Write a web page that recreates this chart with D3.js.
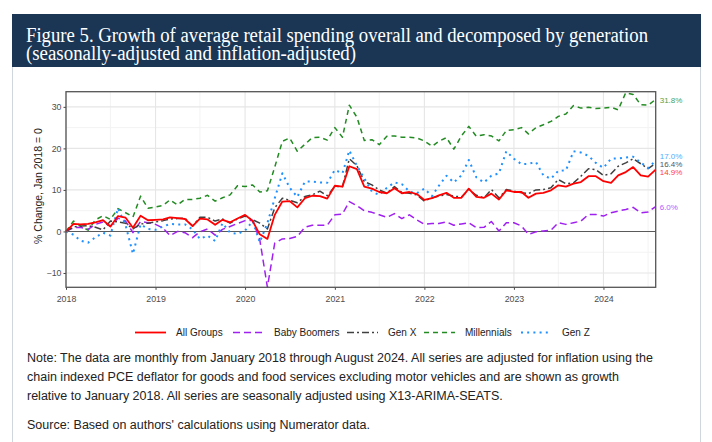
<!DOCTYPE html>
<html>
<head>
<meta charset="utf-8">
<script src="https://cdn.jsdelivr.net/npm/d3@7"></script>
<style>
  html, body { margin: 0; padding: 0; background: #ffffff; }
  svg { display: block; }
</style>
</head>
<body>
<svg id="chart" width="712" height="442"></svg>
<script>
// ---------------- DATA (monthly, Jan 2018 – Aug 2024) ----------------
const startYear = 2018;
const nMonths = 80;
const seriesNames = ["All Groups", "Baby Boomers", "Gen X", "Millennials", "Gen Z"];
const yearTicks = [2018, 2019, 2020, 2021, 2022, 2023, 2024];
const yTicks = [-10, 0, 10, 20, 30];
const endLabels = ["14.9%", "6.0%", "16.4%", "31.8%", "17.0%"];

const allGroups = [
  0, 1.8, 1.7, 1.8, 2.2, 2.7, 1.2, 3.7, 3.3, 0.9, 3.8, 2.7,
  2.8, 2.9, 3.4, 3.2, 3.0, 1.3, 3.1, 2.9, 1.6, 2.8, 2.2, 3.1,
  4.0, 2.5, -0.7, -1.8, 4.0, 7.2, 7.3, 5.8, 8.0, 8.6, 8.5, 7.9,
  11.0, 10.8, 15.7, 15.0, 10.8, 10.3, 9.5, 9.2, 10.4, 9.2, 9.5, 9.0,
  7.6, 8.0, 8.7, 9.3, 8.1, 8.1, 10.3, 8.3, 8.1, 9.1, 7.7, 9.9,
  9.5, 9.5, 8.1, 9.1, 9.3, 9.9, 11.1, 10.8, 11.5, 11.9, 13.3, 13.3,
  12.1, 11.7, 13.5, 14.3, 15.5, 13.5, 13.2, 14.9
];
const babyBoomers = [
  0, 0.9, 1.0, 0.5, 1.7, 2.3, 1.2, 3.2, 2.5, -0.3, 2.4, 2.1,
  1.7, 0.8, -1.0, 0.0, -0.3, -1.5, -0.1, 0.6, -0.9, 0.5, 1.2, 1.9,
  2.6, 2.7, -2.0, -13.4, -2.8, -1.8, -1.7, -1.2, 1.0, 1.5, 1.5, 1.5,
  4.0, 4.2, 7.2, 6.2, 5.0, 4.6, 4.0, 3.4, 4.3, 3.1, 4.0, 2.8,
  1.7, 1.9, 1.9, 2.3, 1.5, 1.8, 2.1, 0.9, 1.0, 2.4, 0.1, 2.1,
  2.1, 1.3, -0.7, -0.1, 0.1, 0.3, 2.1, 1.7, 2.1, 2.5, 4.1, 4.1,
  3.7, 4.5, 4.9, 5.3, 5.8, 4.5, 4.7, 6.0
];
const genX = [
  0, 1.1, 1.3, 1.4, 1.0, 0.4, 2.5, 2.3, 2.0, 0.6, 1.8, 2.0,
  2.3, 2.6, 3.0, 3.1, 3.2, 1.3, 3.4, 3.4, 2.5, 3.0, 2.0, 3.0,
  3.7, 2.8, 2.0, 0.6, 5.7, 8.0, 7.5, 6.9, 8.4, 8.8, 9.7, 8.6,
  10.8, 10.8, 17.5, 15.8, 12.0, 11.2, 10.0, 9.2, 10.8, 9.4, 9.2, 8.8,
  7.3, 8.1, 8.5, 8.9, 8.5, 8.3, 10.1, 8.7, 8.1, 10.1, 8.1, 10.1,
  9.7, 9.3, 9.1, 10.0, 10.1, 10.5, 12.5, 11.5, 11.7, 13.3, 15.1, 14.9,
  13.5, 13.9, 15.7, 16.5, 17.5, 16.3, 15.1, 16.4
];
const millennials = [
  0, 2.5, 1.3, 0.3, 2.8, 3.8, 2.9, 5.5, 4.5, 3.5, 8.5, 5.6,
  5.9, 6.3, 7.6, 6.4, 7.7, 7.7, 8.0, 8.7, 7.3, 8.1, 8.8, 11.0,
  10.8, 11.2, 9.5, 9.8, 15.5, 21.7, 22.5, 19.3, 21.0, 22.6, 22.7, 22.0,
  25.0, 22.7, 30.4, 27.5, 21.9, 22.1, 20.9, 22.9, 23.0, 22.7, 22.7, 22.5,
  21.8, 20.5, 21.7, 22.6, 19.8, 23.0, 25.3, 22.9, 23.3, 23.0, 21.8, 24.3,
  24.5, 25.0, 23.5, 25.0, 25.7, 26.5, 27.7, 28.3, 30.3, 29.7, 29.9, 29.6,
  29.7, 29.9, 29.3, 33.4, 33.0, 30.5, 30.4, 31.8
];
const genZ = [
  0, -0.8, -2.2, -2.7, -1.4, -0.3, -1.0, 5.6, 1.5, -5.4, 1.7, 0.6,
  0.4, 1.2, 1.8, 1.7, 1.7, 0.5, -1.8, -1.0, -2.3, 2.0, -0.3, -0.6,
  0.2, 2.5, -2.6, 2.0, 8.0, 14.0, 10.5, 8.3, 12.0, 12.0, 11.8, 11.7,
  14.8, 14.0, 19.5, 15.8, 12.8, 9.6, 8.8, 10.5, 11.8, 11.4, 9.6, 9.2,
  10.3, 8.5, 11.0, 13.4, 11.8, 13.5, 17.2, 13.0, 11.8, 13.4, 14.0, 19.3,
  17.5, 16.2, 16.3, 16.7, 13.5, 12.7, 14.6, 14.7, 19.3, 19.0, 18.2, 16.5,
  15.3, 17.5, 17.6, 17.8, 18.0, 16.6, 15.3, 17.0
];

// ---------------- STYLE ----------------
const colors = ["#ff0000", "#a020f0", "#404040", "#228b22", "#1e90ff"];
const labelColors = ["#ff3b3b", "#b25cff", "#555555", "#4f9f4f", "#55aaff"];
const dashes = [null, "7,4", "7,3,2,3", "5,4", "2,4.2"];
const widths = [1.8, 1.5, 1.5, 1.5, 2];

const seriesValues = [allGroups, babyBoomers, genX, millennials, genZ];
const months = d3.range(nMonths).map(i => new Date(startYear, i, 1));

const svg = d3.select("#chart");

// card border
svg.append("rect").attr("x", 12.5).attr("y", 14.5).attr("width", 688).attr("height", 440)
  .attr("fill", "#fff").attr("stroke", "#cfd6de").attr("stroke-width", 1);

// title box
svg.append("rect").attr("x", 12).attr("y", 14).attr("width", 689).attr("height", 53)
  .attr("fill", "#1a3654");
svg.append("text").attr("x", 26).attr("y", 42)
  .attr("font-family", "'Liberation Serif', 'DejaVu Serif', serif").attr("font-size", 20)
  .attr("fill", "#ffffff").attr("textLength", 622).attr("lengthAdjust", "spacingAndGlyphs")
  .text("Figure 5. Growth of average retail spending overall and decomposed by generation");
svg.append("text").attr("x", 26).attr("y", 60)
  .attr("font-family", "'Liberation Serif', 'DejaVu Serif', serif").attr("font-size", 20)
  .attr("fill", "#ffffff").attr("textLength", 330).attr("lengthAdjust", "spacingAndGlyphs")
  .text("(seasonally-adjusted and inflation-adjusted)");

// ---------------- SCALES ----------------
const pLeft = 66, pRight = 655.7, pTop = 91.7, pBottom = 287.3;
const x = d3.scaleTime()
  .domain([months[0], months[nMonths - 1]])
  .range([pLeft, pRight]);
const y = d3.scaleLinear().domain([-13.45, 33.65]).range([pBottom, pTop]);

const g = svg.append("g");

// minor grid
const minorY = [-5, 5, 15, 25];
g.selectAll(".minorY").data(minorY).enter().append("line")
  .attr("x1", pLeft).attr("x2", pRight).attr("y1", d => y(d)).attr("y2", d => y(d))
  .attr("stroke", "#f3f3f3").attr("stroke-width", 1);
const minorX = yearTicks.map(yr => new Date(yr, 6, 1)).filter(d => d <= months[nMonths - 1]);
g.selectAll(".minorX").data(minorX).enter().append("line")
  .attr("x1", d => x(d)).attr("x2", d => x(d)).attr("y1", pTop).attr("y2", pBottom)
  .attr("stroke", "#f3f3f3").attr("stroke-width", 1);
// major grid
g.selectAll(".majorY").data(yTicks).enter().append("line")
  .attr("x1", pLeft).attr("x2", pRight).attr("y1", d => y(d)).attr("y2", d => y(d))
  .attr("stroke", "#e6e6e6").attr("stroke-width", 1.1);
g.selectAll(".majorX").data(yearTicks).enter().append("line")
  .attr("x1", d => x(new Date(d, 0, 1))).attr("x2", d => x(new Date(d, 0, 1)))
  .attr("y1", pTop).attr("y2", pBottom)
  .attr("stroke", "#e6e6e6").attr("stroke-width", 1.1);

// zero line
g.append("line").attr("x1", pLeft).attr("x2", pRight).attr("y1", y(0)).attr("y2", y(0))
  .attr("stroke", "#5a5a5a").attr("stroke-width", 1.1);

// axes (labels)
const yAxis = d3.axisLeft(y).tickValues(yTicks).tickSize(2.5).tickPadding(2)
  .tickFormat(d => d < 0 ? "\u2212" + Math.abs(d) : d);
const ya = svg.append("g").attr("transform", `translate(${pLeft},0)`).call(yAxis);
ya.select(".domain").remove();
ya.selectAll("line").attr("stroke", "#444");
ya.selectAll("text").attr("font-family", "'Liberation Sans', Arial, sans-serif")
  .attr("font-size", 8.8).attr("fill", "#4d4d4d");

const xAxis = d3.axisBottom(x).tickValues(yearTicks.map(yr => new Date(yr, 0, 1)))
  .tickSize(2.5).tickPadding(6).tickFormat(d3.timeFormat("%Y"));
const xa = svg.append("g").attr("transform", `translate(0,${pBottom})`).call(xAxis);
xa.select(".domain").remove();
xa.selectAll("line").attr("stroke", "#444");
xa.selectAll("text").attr("font-family", "'Liberation Sans', Arial, sans-serif")
  .attr("font-size", 8.8).attr("fill", "#4d4d4d");

// series lines
const line = d3.line().x((d, i) => x(months[i])).y(d => y(d));
const order = [3, 1, 2, 4, 0];
order.forEach(k => {
  svg.append("path").datum(seriesValues[k])
    .attr("d", line)
    .attr("fill", "none")
    .attr("stroke", colors[k])
    .attr("stroke-width", widths[k])
    .attr("stroke-dasharray", dashes[k])
    .attr("stroke-linecap", "butt")
    .attr("stroke-linejoin", "round");
});

// panel border
svg.append("rect").attr("x", pLeft).attr("y", pTop).attr("width", pRight - pLeft).attr("height", pBottom - pTop)
  .attr("fill", "none").attr("stroke", "#555555").attr("stroke-width", 1.3);

// end labels
const labelY = [172.5, 207, 164.2, 100, 156];
seriesValues.forEach((vals, k) => {
  svg.append("text").attr("x", pRight + 4).attr("y", labelY[k]).attr("dy", "0.35em")
    .attr("font-family", "'Liberation Sans', Arial, sans-serif").attr("font-size", 8)
    .attr("fill", labelColors[k]).text(endLabels[k]);
});

// y axis title
svg.append("text").attr("transform", `translate(42,186) rotate(-90)`)
  .attr("text-anchor", "middle")
  .attr("font-family", "'Liberation Sans', Arial, sans-serif").attr("font-size", 10.5)
  .attr("fill", "#222").text("% Change, Jan 2018 = 0");

// legend
const legX = [135, 233, 347, 424, 521];
const legend = svg.append("g");
seriesNames.forEach((name, k) => {
  legend.append("line").attr("x1", legX[k]).attr("x2", legX[k] + 31)
    .attr("y1", 332.5).attr("y2", 332.5)
    .attr("stroke", colors[k]).attr("stroke-width", widths[k])
    .attr("stroke-dasharray", dashes[k]);
  legend.append("text").attr("x", legX[k] + 41).attr("y", 332.5).attr("dy", "0.35em")
    .attr("font-family", "'Liberation Sans', Arial, sans-serif").attr("font-size", 10)
    .attr("fill", "#222").text(name);
});

// notes
const noteLines = [
  "Note: The data are monthly from January 2018 through August 2024. All series are adjusted for inflation using the",
  "chain indexed PCE deflator for goods and food services excluding motor vehicles and are shown as growth",
  "relative to January 2018. All series are seasonally adjusted using X13-ARIMA-SEATS."
];
const noteY = [358, 377, 396];
noteLines.forEach((t, i) => {
  svg.append("text").attr("x", 27).attr("y", noteY[i]).attr("dy", "0.35em")
    .attr("font-family", "'Liberation Sans', Arial, sans-serif").attr("font-size", 12.5)
    .attr("fill", "#222").text(t);
});
svg.append("text").attr("x", 27).attr("y", 425).attr("dy", "0.35em")
  .attr("font-family", "'Liberation Sans', Arial, sans-serif").attr("font-size", 12.5)
  .attr("fill", "#222").text("Source: Based on authors' calculations using Numerator data.");
</script>
</body>
</html>
